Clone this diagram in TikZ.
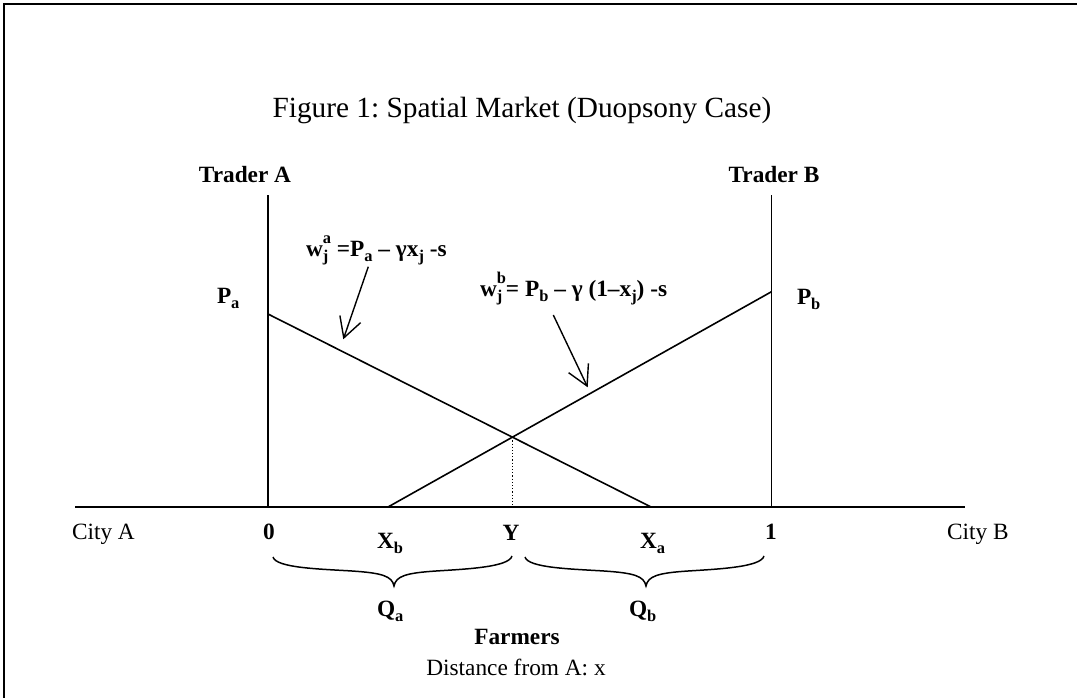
\documentclass[tikz,border=0pt]{standalone}
\usepackage{fontspec}
\setmainfont{Liberation Serif}
\usetikzlibrary{arrows.meta}
\frenchspacing
\newcommand{\sbx}[1]{\raisebox{-6pt}{\fontsize{16.5}{17}\selectfont #1}}
\newcommand{\spx}[1]{\raisebox{12.5pt}{\fontsize{16.5}{17}\selectfont #1}}
\newcommand{\ssx}[2]{\rlap{\sbx{#1}}\spx{#2}}
\begin{document}
\begin{tikzpicture}[x=1bp,y=-1bp,
  every node/.style={inner sep=0pt, outer sep=0pt, font=\fontsize{23.4}{28}\selectfont},
  lbl/.style={font=\fontsize{23.4}{28}\selectfont\bfseries},
  ln/.style={line width=1.6pt},
  ptr/.style={line width=1.4pt, -{Straight Barb[length=20pt,width=22pt,line width=1.4pt]}}]
\useasboundingbox (0,0) rectangle (1077,698);
\fill[white] (-20,-20) rectangle (1100,720);
\draw[line width=2.2pt] (4,720) -- (4,4) -- (1100,4);
% coordinates
\coordinate (axL) at (75,507);
\coordinate (axR) at (965,507);
\coordinate (A0) at (268,507);
\coordinate (A1) at (268,195);
\coordinate (B0) at (771.5,507);
\coordinate (B1) at (771.5,195);
\coordinate (PA) at (268,314);
\coordinate (XA) at (651,507);
\coordinate (PB) at (771.5,291.7);
\coordinate (XB) at (388,507);
\coordinate (I) at (intersection of PA--XA and XB--PB);
\coordinate (arAs) at (368.3,266.7);
\coordinate (arAt) at (343.3,339.3);
\coordinate (arBs) at (553.3,315);
\coordinate (arBt) at (587.7,387.3);
% lines
\draw[ln] (axL) -- (axR);
\draw[ln] (A0) -- (A1);
\draw[ln] (B0) -- (B1);
\draw[ln] (PA) -- (XA);
\draw[ln] (XB) -- (PB);
\draw[line width=1.2pt, dotted] (I) -- (I |- A0);
\draw[ptr] (arAs) -- (arAt);
\draw[ptr] (arBs) -- (arBt);
% braces
\draw[line width=1.5pt] (273,557) .. controls (276,568) and (320,569) .. (352,571) .. controls (382,573) and (392,576) .. (394,586) .. controls (396,576) and (406,573) .. (436,571) .. controls (468,569) and (509,567) .. (512,556);
\draw[line width=1.5pt] (525,557) .. controls (528,568) and (572,569) .. (604,571) .. controls (634,573) and (644,576) .. (646,586) .. controls (648,576) and (658,573) .. (688,571) .. controls (720,569) and (761,567) .. (764,556);
% texts
\node[anchor=base, font=\fontsize{29.4}{34}\selectfont] (title) at (522,118) {Figure 1: Spatial Market (Duopsony Case)};
\node[lbl, anchor=base] (trA) at (245,183) {Trader A};
\node[lbl, anchor=base] (trB) at (774,183) {Trader B};
\node[lbl, anchor=base west] (fa) at (306,256) {w\ssx{j}{a} =P\sbx{a} – γx\sbx{j} -s};
\node[lbl, anchor=base west] (fb) at (480,296) {w\ssx{j}{b}= P\sbx{b} – γ (1–x\sbx{j}) -s};
\node[lbl, anchor=base west] (pa) at (217,303) {P\sbx{a}};
\node[lbl, anchor=base west] (pb) at (797,304) {P\sbx{b}};
\node[anchor=base west] (ca) at (72,539) {City A};
\node[anchor=base west] (cb) at (947,539) {City B};
\node[lbl, anchor=base] (l0) at (269,539) {0};
\node[lbl, anchor=base west] (xb) at (377,548) {X\sbx{b}};
\node[lbl, anchor=base] (ly) at (511,540) {Y};
\node[lbl, anchor=base west] (xa) at (640,548) {X\sbx{a}};
\node[lbl, anchor=base] (l1) at (771,539) {1};
\node[lbl, anchor=base west] (qa) at (377,616) {Q\sbx{a}};
\node[lbl, anchor=base west] (qb) at (629,616) {Q\sbx{b}};
\node[lbl, anchor=base] (fm) at (517,644) {Farmers};
\node[anchor=base] (dist) at (516,675) {Distance from A: x};
\end{tikzpicture}
\end{document}
